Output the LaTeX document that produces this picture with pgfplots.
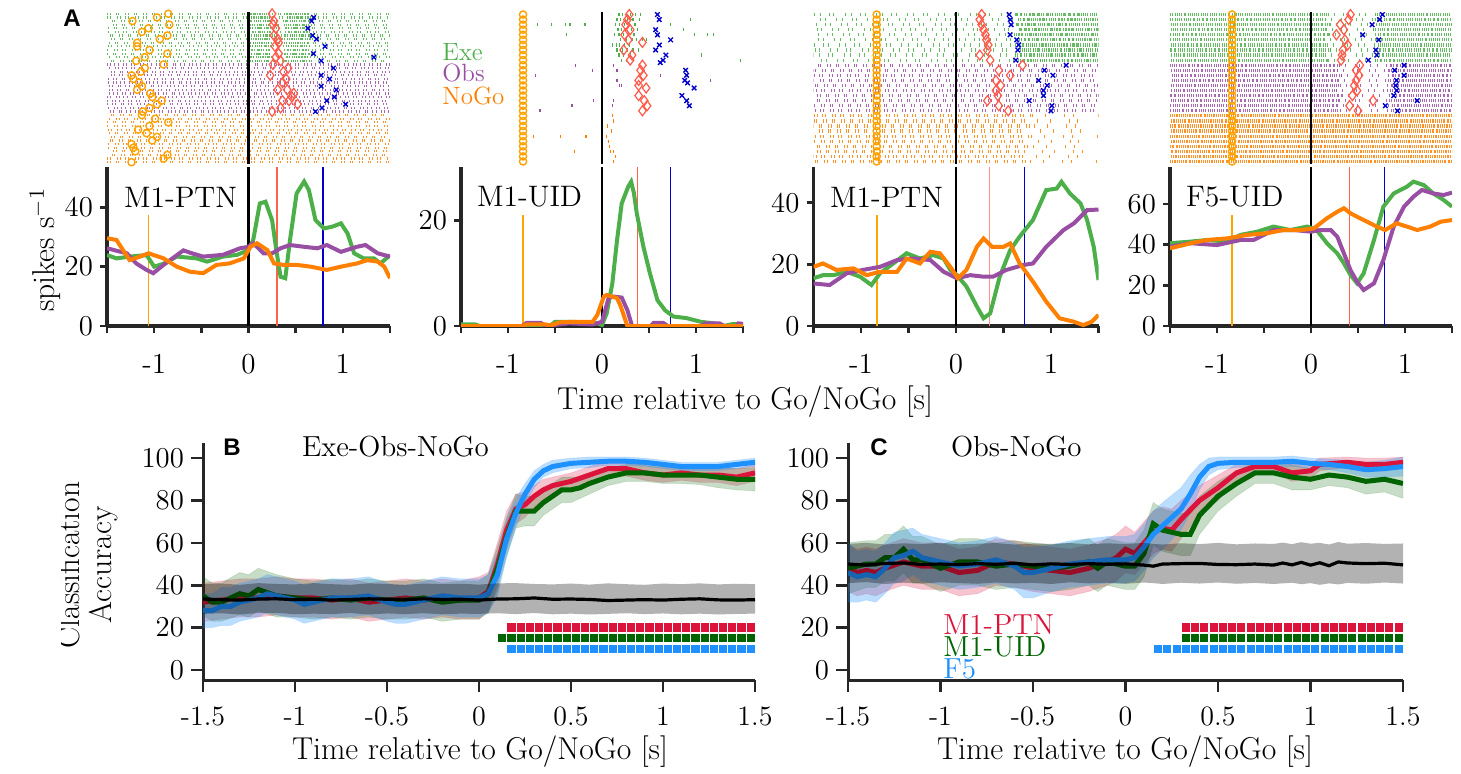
\documentclass[border=0pt]{standalone}
\usepackage{fontspec}
\usepackage{pgfplots}
\pgfplotsset{compat=1.18}
\usepackage{pgfplotstable}
\newfontfamily\helv{Liberation Sans}

\definecolor{cexe}{HTML}{4DAF4A}
\definecolor{cobs}{HTML}{984EA3}
\definecolor{cnogo}{HTML}{FF7F00}
\definecolor{ccirc}{HTML}{FFA200}
\definecolor{cdiam}{HTML}{FF5A4A}
\definecolor{ccross}{HTML}{0000CD}
\definecolor{cevo}{HTML}{FFA500}
\definecolor{cevr}{HTML}{FF6347}
\definecolor{cevb}{HTML}{0000CD}
\definecolor{cred}{HTML}{DC143C}
\definecolor{cgreen}{HTML}{006400}
\definecolor{cblue}{HTML}{1E90FF}
\definecolor{axgray}{HTML}{262626}

\tikzset{
 dA/.style={dash pattern=on 0.45pt off 1.1pt on 0.45pt off 2.4pt on 0.45pt off 0.7pt on 0.45pt off 3.0pt},
 dB/.style={dash pattern=on 0.45pt off 0.9pt on 0.45pt off 1.9pt on 0.45pt off 1.3pt on 0.45pt off 2.3pt},
 dC/.style={dash pattern=on 0.45pt off 0.5pt on 0.45pt off 1.0pt on 0.45pt off 0.4pt on 0.45pt off 0.7pt},
 dD/.style={dash pattern=on 0.5pt off 0.35pt on 0.5pt off 0.6pt on 0.5pt off 0.3pt on 0.5pt off 0.45pt},
 dS/.style={dash pattern=on 0.45pt off 2.6pt on 0.45pt off 4.2pt on 0.45pt off 1.8pt on 0.45pt off 5.2pt},
 dT/.style={dash pattern=on 0.45pt off 6pt on 0.45pt off 9pt on 0.45pt off 4pt on 0.45pt off 12pt},
}

\pgfplotsset{
 psth/.style={scale only axis, height=79.5pt, xmin=-1.5, xmax=1.5, ymin=0, anchor=south west,
   axis x line*=bottom, axis y line*=left,
   axis line style={line width=1.6pt, color=axgray, -},
   xtick={-1.5,-1,-0.5,0,0.5,1,1.5}, xticklabels={,-1,,0,,1,},
   tick align=outside, major tick length=3.5pt,
   tick style={line width=1.3pt, color=axgray},
   tick label style={font=\fontsize{14.5}{16}\selectfont, color=black},
   xticklabel style={yshift=-7pt}},
 raster/.style={scale only axis, height=76pt, xmin=-1.5, xmax=1.5, ymin=0.5, ymax=30.5,
   y dir=reverse, hide axis, anchor=south west, unbounded coords=jump},
 acc/.style={scale only axis, height=118.5pt, xmin=-1.5, xmax=1.5, ymin=-4.7, ymax=107.1,
   anchor=south west,
   axis x line*=bottom, axis y line*=left,
   axis line style={line width=1.5pt, color=axgray, -},
   xtick={-1.5,-1,-0.5,0,0.5,1,1.5}, xticklabels={-1.5,-1,-0.5,0,0.5,1,1.5},
   ytick={0,20,40,60,80,100},
   tick align=outside, major tick length=6pt,
   tick style={line width=1.3pt, color=axgray},
   tick label style={font=\fontsize{14}{16}\selectfont, color=black},
   xticklabel style={yshift=-4pt}},
 circ/.style={only marks, mark=o, mark size=1.8pt, color=ccirc, mark options={line width=0.7pt}},
 diam/.style={only marks, mark=diamond, mark size=2.5pt, color=cdiam, mark options={line width=0.6pt}},
 crs/.style={only marks, mark=x, mark size=1.6pt, color=ccross, mark options={line width=0.7pt}},
 sq/.style={only marks, mark=square*, mark size=2.3pt, mark options={draw=white, line width=0.25pt, fill=#1}},
 bandR/.style={fill=cred, fill opacity=0.25, draw=cred, draw opacity=0.12, line width=0.4pt},
 bandG/.style={fill=cgreen, fill opacity=0.22, draw=cgreen, draw opacity=0.12, line width=0.4pt},
 bandB/.style={fill=cblue, fill opacity=0.3, draw=cblue, draw opacity=0.12, line width=0.4pt},
 bandK/.style={fill=black, fill opacity=0.3, draw=none},
}

% ---------- classification data (mean lines) ----------
\pgfplotstableread{
x y
-1.5 32
-1.4 33
-1.3 34
-1.2 34
-1.1 35
-1.0 34
-0.9 34
-0.8 33
-0.7 34
-0.6 32
-0.5 33
-0.4 34
-0.3 33
-0.2 34
-0.1 33
0.0 34
0.05 37
0.1 50
0.15 66
0.2 76
0.25 78
0.3 82
0.35 85
0.4 87
0.5 89
0.6 92
0.7 95
0.8 95
0.9 93
1.0 92
1.1 93
1.2 92
1.3 92
1.4 91
1.5 93
}\Bred
\pgfplotstableread{
x y
-1.5 35
-1.45 32
-1.4 32
-1.3 36
-1.25 35
-1.2 38
-1.1 35
-1.0 34
-0.9 33
-0.8 34
-0.7 33
-0.6 34
-0.5 33
-0.4 33
-0.3 34
-0.2 32
-0.1 33
0.0 33
0.05 36
0.1 48
0.15 63
0.2 75
0.25 75
0.3 75
0.35 79
0.4 82
0.45 85
0.5 85
0.55 86
0.6 88
0.7 91
0.8 93
0.9 93
1.0 92
1.1 92
1.2 92
1.3 91
1.4 90
1.5 90
}\Bgreen
\pgfplotstableread{
x y
-1.5 28
-1.45 28
-1.4 30
-1.35 30
-1.3 32
-1.2 34
-1.15 36
-1.1 35
-1.0 33
-0.95 31
-0.9 32
-0.8 34
-0.7 34
-0.6 35
-0.5 32
-0.45 31
-0.4 31
-0.3 33
-0.2 35
-0.1 34
0.0 34
0.05 36
0.1 45
0.15 62
0.2 74
0.25 83
0.3 90
0.35 94
0.4 96
0.5 97.5
0.6 98
0.7 98.5
0.8 98.5
0.9 98
1.0 97
1.1 96
1.2 96
1.3 96
1.4 97
1.5 98
}\Bblue
\pgfplotstableread{
x y
-1.5 33.5
-1.4 33.2
-1.3 33.0
-1.2 33.5
-1.1 33.6
-1.0 33.2
-0.9 33.4
-0.8 33.0
-0.7 33.3
-0.6 33.6
-0.5 33.4
-0.4 33.2
-0.3 33.6
-0.2 33.3
-0.1 33.4
0.0 33.0
0.1 33.5
0.2 33.6
0.3 34.0
0.4 33.4
0.5 33.5
0.6 33.3
0.7 32.8
0.8 33.0
0.9 33.2
1.0 33.0
1.1 33.4
1.2 33.6
1.3 33.1
1.4 33.0
1.5 33.2
}\Bchance
\pgfplotstableread{
x y
-1.5 48
-1.45 46
-1.4 47
-1.35 46
-1.3 48
-1.2 51
-1.1 49
-1.0 49
-0.9 46
-0.8 47
-0.7 51
-0.6 50
-0.5 48
-0.4 47
-0.3 46
-0.2 48
-0.1 51
-0.05 53
0.0 57
0.05 55
0.1 60
0.15 65
0.2 67
0.25 66
0.3 71
0.4 80
0.5 86
0.6 93
0.7 96
0.8 96
0.9 93
1.0 94
1.05 97
1.2 98
1.3 97
1.4 97
1.5 98
}\Cred
\pgfplotstableread{
x y
-1.5 48
-1.4 50
-1.35 50
-1.3 53
-1.25 53
-1.2 57
-1.15 52
-1.1 52
-1.0 48
-0.9 51
-0.8 51
-0.7 49
-0.6 50
-0.5 49
-0.4 48
-0.3 49
-0.2 51
-0.15 48
-0.1 51
0.0 49
0.05 49
0.1 55
0.15 69
0.2 66
0.3 64
0.35 64
0.4 73
0.5 82
0.6 88
0.7 93
0.8 93
0.9 91
1.0 90
1.1 92
1.2 91
1.3 89
1.4 90
1.5 88
}\Cgreen
\pgfplotstableread{
x y
-1.5 46
-1.45 44
-1.4 45
-1.35 44
-1.3 48
-1.25 53
-1.2 54
-1.15 56
-1.1 53
-1.0 51
-0.9 49
-0.8 50
-0.7 52
-0.6 49
-0.55 46
-0.5 46
-0.4 48
-0.3 50
-0.2 51
-0.1 52
0.0 52
0.05 53
0.1 58
0.15 64
0.2 68
0.3 76
0.35 83
0.4 91
0.45 96
0.5 97.5
0.6 98
0.8 98
0.9 98.5
1.0 97.5
1.1 97
1.2 96
1.3 94.5
1.4 95
1.5 96
}\Cblue
\pgfplotstableread{
x y
-1.5 50.0
-1.4 49.5
-1.3 50.3
-1.2 50.5
-1.1 49.8
-1.0 50.0
-0.9 49.7
-0.8 50.2
-0.7 49.9
-0.6 50.3
-0.5 49.6
-0.4 50.1
-0.3 49.8
-0.2 50.2
-0.1 49.9
0.0 50.1
0.1 49.5
0.15 49.0
0.2 50.0
0.3 50.2
0.4 50.3
0.5 49.8
0.6 49.7
0.7 50.0
0.8 49.5
0.85 50.5
0.9 49.6
0.95 50.8
1.0 49.5
1.05 50.6
1.1 49.2
1.15 51.0
1.2 50.5
1.3 50.2
1.4 50.4
1.5 49.6
}\Cchance

\begin{document}
\begin{tikzpicture}[x=0.5pt,y=0.5pt]
\useasboundingbox (0,0) rectangle (1461,773);
\clip (0,0) rectangle (1461,773);
\coordinate (rA1) at (107,609);   \coordinate (pA1) at (107,447);
\coordinate (rA2) at (461,609);   \coordinate (pA2) at (461,447);
\coordinate (rA3) at (813.5,609); \coordinate (pA3) at (813.5,447);
\coordinate (rA4) at (1170,609);  \coordinate (pA4) at (1170,447);
\coordinate (pB) at (203,93);     \coordinate (pC) at (848,93);

% ================= PANEL A1 =================
\begin{axis}[raster, at={(rA1)}, width=141.5pt, ymax=42.5]
\addplot[cexe, line width=1.1pt, dA, opacity=0.85] coordinates {
(-1.50,1)(1.5,1)(0,nan)(-1.59,2)(1.5,2)(0,nan)(-1.54,3)(1.5,3)(0,nan)(-1.63,4)(1.5,4)(0,nan)
(-1.52,5)(1.5,5)(0,nan)(-1.61,6)(1.5,6)(0,nan)(-1.56,7)(1.5,7)(0,nan)(-1.65,8)(1.5,8)(0,nan)
(-1.51,9)(1.5,9)(0,nan)(-1.58,10)(1.5,10)(0,nan)(-1.62,11)(1.5,11)(0,nan)(-1.53,12)(1.5,12)(0,nan)
(-1.60,13)(1.5,13)(0,nan)(-1.55,14)(1.5,14)};
\addplot[cexe, line width=1.1pt, dC, opacity=0.85] coordinates {
(0.00,1)(0.22,1)(0,nan)(0.38,1)(0.65,1)(0,nan)(0.03,2)(0.22,2)(0,nan)(0.41,2)(0.65,2)(0,nan)
(0.01,3)(0.22,3)(0,nan)(0.39,3)(0.65,3)(0,nan)(0.04,4)(0.22,4)(0,nan)(0.42,4)(0.65,4)(0,nan)
(0.02,5)(0.22,5)(0,nan)(0.40,5)(0.65,5)(0,nan)(0.05,6)(0.22,6)(0,nan)(0.43,6)(0.65,6)(0,nan)
(0.01,7)(0.22,7)(0,nan)(0.39,7)(0.65,7)(0,nan)(0.03,8)(0.22,8)(0,nan)(0.41,8)(0.65,8)(0,nan)
(0.00,9)(0.22,9)(0,nan)(0.38,9)(0.65,9)(0,nan)(0.02,10)(0.22,10)(0,nan)(0.40,10)(0.65,10)(0,nan)
(0.04,11)(0.22,11)(0,nan)(0.42,11)(0.65,11)(0,nan)(0.01,12)(0.22,12)(0,nan)(0.39,12)(0.65,12)(0,nan)
(0.03,13)(0.22,13)(0,nan)(0.41,13)(0.65,13)(0,nan)(0.02,14)(0.22,14)(0,nan)(0.40,14)(0.65,14)};
\addplot[cobs, line width=1.1pt, dB, opacity=0.85] coordinates {
(-1.50,15)(1.5,15)(0,nan)(-1.59,16)(1.5,16)(0,nan)(-1.54,17)(1.5,17)(0,nan)(-1.63,18)(1.5,18)(0,nan)
(-1.52,19)(1.5,19)(0,nan)(-1.61,20)(1.5,20)(0,nan)(-1.56,21)(1.5,21)(0,nan)(-1.65,22)(1.5,22)(0,nan)
(-1.51,23)(1.5,23)(0,nan)(-1.58,24)(1.5,24)(0,nan)(-1.62,25)(1.5,25)(0,nan)(-1.53,26)(1.5,26)(0,nan)
(-1.60,27)(1.5,27)(0,nan)(-1.55,28)(1.5,28)};
\addplot[cnogo, line width=1.1pt, dA, opacity=0.85] coordinates {
(-1.55,29)(1.5,29)(0,nan)(-1.60,30)(1.5,30)(0,nan)(-1.53,31)(1.5,31)(0,nan)(-1.62,32)(1.5,32)(0,nan)
(-1.58,33)(1.5,33)(0,nan)(-1.51,34)(1.5,34)(0,nan)(-1.65,35)(1.5,35)(0,nan)(-1.56,36)(1.5,36)(0,nan)
(-1.61,37)(1.5,37)(0,nan)(-1.52,38)(1.5,38)(0,nan)(-1.63,39)(1.5,39)(0,nan)(-1.54,40)(1.5,40)(0,nan)
(-1.59,41)(1.5,41)(0,nan)(-1.50,42)(1.5,42)};
\addplot[black, line width=1.3pt] coordinates {(0,0.5)(0,42.5)};
\addplot[circ] coordinates {
(-0.85,1)(-0.97,2)(-1.23,3)(-0.84,4)(-1.06,5)(-1.13,6)(-0.86,7)(-0.94,8)(-1.18,9)(-1.18,10)
(-1.05,11)(-0.86,12)(-1.10,13)(-1.19,14)(-0.90,15)(-1.10,16)(-1.14,17)(-1.24,18)(-1.22,19)(-1.16,20)
(-1.13,21)(-1.18,22)(-1.04,23)(-1.02,24)(-0.92,25)(-0.97,26)(-1.05,27)(-1.12,28)(-1.13,29)(-0.99,30)
(-0.85,31)(-1.05,32)(-1.17,33)(-1.08,34)(-0.97,35)(-1.02,36)(-1.24,37)(-1.22,38)(-1.20,39)(-0.86,40)
(-0.90,41)(-1.24,42)};
\addplot[diam] coordinates {
(0.25,1)(0.27,3)(0.26,4)(0.29,5)(0.27,7)(0.31,8)(0.32,9)(0.28,10)(0.32,12)(0.29,13)
(0.34,14)(0.26,15)(0.42,16)(0.37,17)(0.23,18)(0.40,19)(0.36,20)(0.31,22)(0.41,22)(0.48,23)
(0.46,24)(0.43,25)(0.36,25)(0.52,26)(0.34,27)(0.25,28)};
\addplot[crs] coordinates {
(0.69,2)(0.67,3)(0.63,5)(0.68,7)(0.72,8)(0.81,10)(0.69,12)(1.33,13)(0.77,14)(0.90,16)
(0.77,18)(0.86,19)(0.77,21)(0.93,22)(0.91,24)(0.83,25)(1.03,26)(0.78,27)(0.71,28)};
\end{axis}
\begin{axis}[psth, at={(pA1)}, width=141.5pt, ymax=53.6, ytick={0,20,40}]
\addplot[cevo, line width=0.9pt] coordinates {(-1.06,0)(-1.06,37.4)};
\addplot[cevr, line width=0.7pt] coordinates {(0.30,0)(0.30,53.6)};
\addplot[cevb, line width=0.7pt] coordinates {(0.79,0)(0.79,53.6)};
\addplot[black, line width=1.3pt] coordinates {(0,0)(0,53.6)};
\addplot[cexe, line width=2pt] coordinates {
(-1.5,23.9)(-1.40,22.8)(-1.26,23.4)(-1.08,23.9)(-1.0,20.0)(-0.9,21)(-0.76,23.4)(-0.55,22.8)(-0.44,21.7)
(-0.27,23.4)(-0.12,24)(0,25.6)(0.05,29)(0.12,41.3)(0.18,41.9)(0.25,35.7)(0.30,24.5)(0.34,16.6)(0.39,16.1)
(0.44,29)(0.51,44.7)(0.59,48.7)(0.64,45.8)(0.71,35.7)(0.80,32.9)(0.89,33.5)(0.98,34.6)(1.05,31.2)
(1.12,24.5)(1.22,22.8)(1.33,22.8)(1.40,21.1)(1.5,23.9)};
\addplot[cobs, line width=2pt] coordinates {
(-1.5,26.2)(-1.29,24.5)(-1.19,21.1)(-1.08,18.9)(-1.01,17.8)(-0.9,20.6)(-0.69,25.5)(-0.6,24.5)(-0.48,23.4)
(-0.27,24)(-0.09,26.2)(0,26.7)(0.05,27.9)(0.16,24.5)(0.25,24.5)(0.34,26.2)(0.44,27.3)(0.59,26.7)
(0.73,26.2)(0.83,27.3)(0.98,25)(1.15,26.7)(1.24,27.3)(1.37,24.5)(1.5,23.4)};
\addplot[cnogo, line width=2pt] coordinates {
(-1.5,29.6)(-1.4,29)(-1.26,22.2)(-1.15,23.4)(-1.06,24.5)(-0.9,22.8)(-0.76,20)(-0.62,18.3)(-0.48,17.8)
(-0.34,20.6)(-0.2,21.1)(-0.05,22.8)(0.02,26.7)(0.09,27.9)(0.20,25.6)(0.27,21.1)(0.37,20.6)(0.51,20.6)
(0.66,20)(0.83,18.9)(0.98,20)(1.15,21.1)(1.26,22.2)(1.37,21.7)(1.44,20)(1.5,16.1)};
\end{axis}

% ================= PANEL A2 =================
\begin{axis}[raster, at={(rA2)}, width=141pt]
\addplot[only marks, mark=|, mark size=0.8pt, cexe, mark options={line width=0.6pt}] coordinates {
(-0.69,3)(-0.54,3)(-0.39,3)(-0.34,3)(-0.18,3)(-0.38,5)
(0.18,1)(0.22,1)(0.26,1)(0.30,1)(0.36,1)(0.41,1)
(0.16,2)(0.20,2)(0.27,2)(0.33,2)(0.40,2)(0.94,2)
(0.14,3)(0.19,3)(0.24,3)(0.29,3)(0.35,3)(0.73,3)
(0.17,4)(0.21,4)(0.25,4)(0.31,4)(0.38,4)(0.87,4)
(0.13,5)(0.18,5)(0.23,5)(0.28,5)(0.34,5)(0.98,5)(1.12,5)(1.19,5)
(0.20,6)(0.26,6)(0.32,6)(0.37,6)(0.43,6)(0.47,6)
(0.11,7)(0.15,7)(0.19,7)(0.24,7)(0.29,7)
(0.16,8)(0.22,8)(0.27,8)(0.33,8)(0.39,8)
(0.18,9)(0.23,9)(0.30,9)(1.06,9)
(0.21,10)(0.26,10)(1.47,10)};
\addplot[only marks, mark=|, mark size=0.8pt, cobs, mark options={line width=0.6pt}] coordinates {
(-0.71,13)(-0.28,11)(-0.10,12)(0.12,11)(0.16,12)(0.16,14)(0.19,15)(0.21,15)(0.62,13)(1.15,14)
(-0.66,20)(-0.32,19)(-0.09,18)(0.12,18)(0.11,19)};
\addplot[only marks, mark=|, mark size=0.8pt, cnogo, mark options={line width=0.6pt}] coordinates {
(0.11,21)(0.12,22)(0.06,23)(0.10,24)(-0.73,25)(-0.44,25)(-0.17,25)(0.05,25)(0.07,26)(0.08,27)
(-0.29,28)(0.09,28)(0.12,28)(0.14,29)(0.12,30)};
\addplot[black, line width=1.3pt] coordinates {(0,0.5)(0,30.5)};
\addplot[circ] coordinates {
(-0.84,1)(-0.84,2)(-0.84,3)(-0.84,4)(-0.84,5)(-0.84,6)(-0.84,7)(-0.84,8)(-0.84,9)(-0.84,10)
(-0.84,11)(-0.84,12)(-0.84,13)(-0.84,14)(-0.84,15)(-0.84,16)(-0.84,17)(-0.84,18)(-0.84,19)(-0.84,20)
(-0.84,21)(-0.84,22)(-0.84,23)(-0.84,24)(-0.84,25)(-0.84,26)(-0.84,27)(-0.84,28)(-0.84,29)(-0.84,30)};
\addplot[diam] coordinates {
(0.29,1)(0.27,2)(0.25,3)(0.30,4)(0.24,5)(0.28,6)(0.43,6.5)(0.23,8)(0.32,9)(0.30,10)
(0.43,11)(0.41,12)(0.44,13)(0.39,14)(0.39,15)(0.47,15.5)(0.39,17)(0.45,18)(0.48,19)(0.43,20)};
\addplot[crs] coordinates {
(0.59,1)(0.61,2)(0.57,4)(0.59,5)(0.73,6)(0.61,7)(0.57,8)(0.68,9)(0.65,10)(0.62,10.5)
(0.89,12)(0.90,13)(0.88,14)(0.91,14.5)(0.98,15.5)(0.85,17)(0.90,18)(0.93,19)};
\end{axis}
\begin{axis}[psth, at={(pA2)}, width=141pt, ymax=30.2, ytick={0,20}]
\addplot[cevo, line width=0.9pt] coordinates {(-0.84,0)(-0.84,21.1)};
\addplot[cevr, line width=0.7pt] coordinates {(0.38,0)(0.38,30.2)};
\addplot[cevb, line width=0.7pt] coordinates {(0.73,0)(0.73,30.2)};
\addplot[black, line width=1.3pt] coordinates {(0,0)(0,30.2)};
\addplot[cexe, line width=2pt] coordinates {
(-1.5,0.3)(-1.35,0.3)(-1.3,0)(-0.55,0)(-0.5,0.8)(-0.3,0.8)(-0.2,0.5)(-0.05,0.5)(0,0.2)(0.05,2.4)
(0.11,8.1)(0.16,16.3)(0.21,23.3)(0.28,26.5)(0.31,27.4)(0.34,25.2)(0.37,21.4)(0.44,15.1)(0.51,10)
(0.59,4.9)(0.67,3)(0.76,1.8)(0.9,1.5)(1.05,0.8)(1.19,0.5)(1.29,0)(1.4,0.4)(1.5,0.2)};
\addplot[cobs, line width=2pt] coordinates {
(-1.5,0)(-0.85,0)(-0.8,0.6)(-0.65,0.6)(-0.6,0)(-0.35,0.5)(-0.1,0.3)(0,0.8)(0.07,5.3)(0.12,5.6)
(0.21,5.4)(0.27,3)(0.32,0)(0.52,0)(0.55,0.6)(0.65,0.6)(0.7,0)(1.05,0)(1.1,0.5)(1.25,0.5)(1.3,0)
(1.43,0)(1.45,0.5)(1.5,0.4)};
\addplot[cnogo, line width=2pt] coordinates {
(-1.5,0)(-0.85,0)(-0.8,0.3)(-0.6,0.3)(-0.55,0.1)(-0.45,0.7)(-0.3,0.8)(-0.1,0.8)(-0.05,2.1)(0.02,5.6)
(0.05,5.9)(0.16,5.3)(0.2,3.7)(0.27,0)(1.5,0)};
\end{axis}

% ================= PANEL A3 =================
\begin{axis}[raster, at={(rA3)}, width=142.5pt]
\addplot[cexe, line width=1.6pt, dS, opacity=0.85] coordinates {
(-1.50,1)(1.5,1)(0,nan)(-1.59,2)(1.5,2)(0,nan)(-1.54,3)(1.5,3)(0,nan)(-1.63,4)(1.5,4)(0,nan)
(-1.52,5)(1.5,5)(0,nan)(-1.61,6)(1.5,6)(0,nan)(-1.56,7)(1.5,7)(0,nan)(-1.65,8)(1.5,8)(0,nan)
(-1.51,9)(1.5,9)(0,nan)(-1.58,10)(1.5,10)};
\addplot[cexe, line width=1.6pt, dC, opacity=0.85] coordinates {
(0.62,1)(1.5,1)(0,nan)(0.65,2)(1.5,2)(0,nan)(0.63,3)(1.5,3)(0,nan)(0.66,4)(1.5,4)(0,nan)
(0.63,5)(1.5,5)(0,nan)(0.66,6)(1.5,6)(0,nan)(0.64,7)(1.5,7)(0,nan)(0.67,8)(1.5,8)(0,nan)
(0.62,9)(1.5,9)(0,nan)(0.65,10)(1.5,10)};
\addplot[cobs, line width=1.6pt, dA, opacity=0.85] coordinates {
(-1.55,11)(1.5,11)(0,nan)(-1.60,12)(1.5,12)(0,nan)(-1.53,13)(1.5,13)(0,nan)(-1.62,14)(1.5,14)(0,nan)
(-1.58,15)(1.5,15)(0,nan)(-1.51,16)(1.5,16)(0,nan)(-1.65,17)(1.5,17)(0,nan)(-1.56,18)(1.5,18)(0,nan)
(-1.61,19)(1.5,19)(0,nan)(-1.52,20)(1.5,20)};
\addplot[cnogo, line width=1.6pt, dA, opacity=0.85] coordinates {
(-1.50,21)(0.78,21)(0,nan)(-1.59,22)(0.75,22)(0,nan)(-1.54,23)(0.80,23)(0,nan)(-1.63,24)(0.72,24)(0,nan)
(-1.52,25)(0.77,25)(0,nan)(-1.61,26)(0.74,26)(0,nan)(-1.56,27)(0.79,27)(0,nan)(-1.65,28)(0.73,28)(0,nan)
(-1.51,29)(0.76,29)(0,nan)(-1.58,30)(0.75,30)};
\addplot[cnogo, line width=1.6pt, dT, opacity=0.85] coordinates {
(0.80,21)(1.5,21)(0,nan)(0.85,22)(1.5,22)(0,nan)(0.82,23)(1.5,23)(0,nan)(0.88,24)(1.5,24)(0,nan)
(0.79,25)(1.5,25)(0,nan)(0.86,26)(1.5,26)(0,nan)(0.81,27)(1.5,27)(0,nan)(0.90,28)(1.5,28)(0,nan)
(0.84,29)(1.5,29)(0,nan)(0.78,30)(1.5,30)};
\addplot[black, line width=1.3pt] coordinates {(0,0.5)(0,30.5)};
\addplot[circ] coordinates {
(-0.835,1)(-0.835,2)(-0.835,3)(-0.835,4)(-0.835,5)(-0.835,6)(-0.835,7)(-0.835,8)(-0.835,9)(-0.835,10)
(-0.835,11)(-0.835,12)(-0.835,13)(-0.835,14)(-0.835,15)(-0.835,16)(-0.835,17)(-0.835,18)(-0.835,19)(-0.835,20)
(-0.835,21)(-0.835,22)(-0.835,23)(-0.835,24)(-0.835,25)(-0.835,26)(-0.835,27)(-0.835,28)(-0.835,29)(-0.835,30)};
\addplot[diam] coordinates {
(0.27,1)(0.25,2)(0.27,3)(0.29,4)(0.31,5)(0.32,6)(0.34,7)(0.33,8)(0.25,9)(0.36,10)
(0.70,11)(0.45,12)(0.57,13)(0.42,14)(0.47,15)(0.42,16)(0.44,17)(0.33,18)(0.45,19)(0.55,20)};
\addplot[crs] coordinates {
(0.56,1)(0.57,2)(0.58,3)(0.57,5)(0.64,6)(0.66,7)(0.65,8)(0.63,10)(1.16,11)(0.93,12)
(1.02,13)(0.87,14)(0.96,15)(0.92,16)(0.92,17)(0.77,18)(1.01,19)(1.00,20)};
\end{axis}
\begin{axis}[psth, at={(pA3)}, width=142.5pt, ymax=51.6, ytick={0,20,40}]
\addplot[cevo, line width=0.9pt] coordinates {(-0.83,0)(-0.83,36)};
\addplot[cevr!70, line width=0.7pt] coordinates {(0.35,0)(0.35,51.6)};
\addplot[cevb, line width=0.7pt] coordinates {(0.72,0)(0.72,51.6)};
\addplot[black, line width=1.3pt] coordinates {(0,0)(0,51.6)};
\addplot[cexe, line width=2pt] coordinates {
(-1.5,15.5)(-1.4,16.5)(-1.29,16.5)(-1.15,17.6)(-1.01,16)(-0.89,13.3)(-0.8,17.1)(-0.66,20.3)(-0.52,23.6)
(-0.38,21.9)(-0.24,23)(-0.13,21.9)(-0.06,18.2)(0.01,16.5)(0.11,12.8)(0.22,6.3)(0.29,2.5)(0.36,4.1)
(0.46,16)(0.57,24.6)(0.67,29)(0.81,34.4)(0.95,44.1)(1.06,44.6)(1.11,46.8)(1.2,43)(1.31,39.8)(1.38,34.4)
(1.45,25.7)(1.5,14.9)};
\addplot[cobs, line width=2pt] coordinates {
(-1.5,13.8)(-1.33,13.3)(-1.15,17.1)(-0.98,18.2)(-0.8,19.2)(-0.62,21.4)(-0.45,21.9)(-0.27,21.4)
(-0.13,17.6)(0.01,15.5)(0.15,16.5)(0.29,16)(0.39,16)(0.53,18.2)(0.71,19.8)(0.81,20.3)(0.95,25.7)
(1.13,31.1)(1.24,33.3)(1.38,37.6)(1.5,37.8)};
\addplot[cnogo, line width=2pt] coordinates {
(-1.5,19.2)(-1.4,20.3)(-1.26,18.2)(-1.08,18.7)(-0.94,16.5)(-0.8,17.6)(-0.62,17.6)(-0.52,21.9)(-0.38,20.3)
(-0.27,24.1)(-0.17,23.6)(-0.06,19.2)(0.02,15.5)(0.11,18.2)(0.22,25.7)(0.29,28.4)(0.38,25.7)(0.5,25.7)
(0.57,26.8)(0.67,20.3)(0.81,14.4)(0.95,7.9)(1.09,2.5)(1.24,1.4)(1.34,0.3)(1.43,1.4)(1.5,3.6)};
\end{axis}

% ================= PANEL A4 =================
\begin{axis}[raster, at={(rA4)}, width=141pt]
\addplot[cexe, line width=1.6pt, dC, opacity=0.85] coordinates {
(-1.50,1)(0.18,1)(0,nan)(0.70,1)(1.5,1)(0,nan)(-1.59,2)(0.15,2)(0,nan)(0.68,2)(1.5,2)(0,nan)
(-1.54,3)(0.20,3)(0,nan)(0.72,3)(1.5,3)(0,nan)(-1.63,4)(0.16,4)(0,nan)(0.66,4)(1.5,4)(0,nan)
(-1.52,5)(0.19,5)(0,nan)(0.71,5)(1.5,5)(0,nan)(-1.61,6)(0.14,6)(0,nan)(0.69,6)(1.5,6)(0,nan)
(-1.56,7)(0.17,7)(0,nan)(0.73,7)(1.5,7)(0,nan)(-1.65,8)(0.20,8)(0,nan)(0.67,8)(1.5,8)(0,nan)
(-1.51,9)(0.15,9)(0,nan)(0.70,9)(1.5,9)(0,nan)(-1.58,10)(0.18,10)(0,nan)(0.68,10)(1.5,10)};
\addplot[cexe, line width=1.6pt, dS, opacity=0.85] coordinates {
(0.18,1)(0.70,1)(0,nan)(0.15,2)(0.68,2)(0,nan)(0.20,3)(0.72,3)(0,nan)(0.16,4)(0.66,4)(0,nan)
(0.19,5)(0.71,5)(0,nan)(0.14,6)(0.69,6)(0,nan)(0.17,7)(0.73,7)(0,nan)(0.20,8)(0.67,8)(0,nan)
(0.15,9)(0.70,9)(0,nan)(0.18,10)(0.68,10)};
\addplot[cobs, line width=1.6pt, dC, opacity=0.85] coordinates {
(-1.55,11)(0.30,11)(0,nan)(0.85,11)(1.5,11)(0,nan)(-1.60,12)(0.28,12)(0,nan)(0.83,12)(1.5,12)(0,nan)
(-1.53,13)(0.32,13)(0,nan)(0.87,13)(1.5,13)(0,nan)(-1.62,14)(0.29,14)(0,nan)(0.82,14)(1.5,14)(0,nan)
(-1.58,15)(0.31,15)(0,nan)(0.86,15)(1.5,15)(0,nan)(-1.51,16)(0.27,16)(0,nan)(0.84,16)(1.5,16)(0,nan)
(-1.65,17)(0.33,17)(0,nan)(0.88,17)(1.5,17)(0,nan)(-1.56,18)(0.30,18)(0,nan)(0.83,18)(1.5,18)(0,nan)
(-1.61,19)(0.28,19)(0,nan)(0.86,19)(1.5,19)(0,nan)(-1.52,20)(0.31,20)(0,nan)(0.85,20)(1.5,20)};
\addplot[cobs, line width=1.6pt, dS, opacity=0.85] coordinates {
(0.30,11)(0.85,11)(0,nan)(0.28,12)(0.83,12)(0,nan)(0.32,13)(0.87,13)(0,nan)(0.29,14)(0.82,14)(0,nan)
(0.31,15)(0.86,15)(0,nan)(0.27,16)(0.84,16)(0,nan)(0.33,17)(0.88,17)(0,nan)(0.30,18)(0.83,18)(0,nan)
(0.28,19)(0.86,19)(0,nan)(0.31,20)(0.85,20)};
\addplot[cnogo, line width=1.6pt, dD, opacity=0.85] coordinates {
(-1.50,21)(1.5,21)(0,nan)(-1.59,22)(1.5,22)(0,nan)(-1.54,23)(1.5,23)(0,nan)(-1.63,24)(1.5,24)(0,nan)
(-1.52,25)(1.5,25)(0,nan)(-1.61,26)(1.5,26)(0,nan)(-1.56,27)(1.5,27)(0,nan)(-1.65,28)(1.5,28)(0,nan)
(-1.51,29)(1.5,29)(0,nan)(-1.58,30)(1.5,30)};
\addplot[black, line width=1.3pt] coordinates {(0,0.5)(0,30.5)};
\addplot[circ] coordinates {
(-0.84,1)(-0.84,2)(-0.84,3)(-0.84,4)(-0.84,5)(-0.84,6)(-0.84,7)(-0.84,8)(-0.84,9)(-0.84,10)
(-0.84,11)(-0.84,12)(-0.84,13)(-0.84,14)(-0.84,15)(-0.84,16)(-0.84,17)(-0.84,18)(-0.84,19)(-0.84,20)
(-0.84,21)(-0.84,22)(-0.84,23)(-0.84,24)(-0.84,25)(-0.84,26)(-0.84,27)(-0.84,28)(-0.84,29)(-0.84,30)};
\addplot[diam] coordinates {
(0.42,1)(0.40,2)(0.31,3)(0.35,4)(0.27,5)(0.36,6)(0.39,7)(0.34,8)(0.33,9)(0.32,10)
(0.52,11)(0.48,12)(0.51,13)(0.48,14)(0.46,15)(0.49,16)(0.44,17)(0.66,18)(0.41,19)(0.50,20)};
\addplot[crs] coordinates {
(0.76,1)(0.73,2)(0.65,3)(0.55,5)(0.72,6)(0.69,8)(0.70,9)(0.61,10)(0.99,11)(0.89,12)
(0.99,13)(0.91,14)(0.90,15)(0.91,16)(0.88,17)(1.13,18)(0.79,19)(0.92,20)};
\end{axis}
\begin{axis}[psth, at={(pA4)}, width=141pt, ymax=78.2, ytick={0,20,40,60}]
\addplot[cevo, line width=0.9pt] coordinates {(-0.84,0)(-0.84,54.6)};
\addplot[cevr, line width=0.7pt] coordinates {(0.41,0)(0.41,78.2)};
\addplot[cevb, line width=0.7pt] coordinates {(0.78,0)(0.78,78.2)};
\addplot[black, line width=1.3pt] coordinates {(0,0)(0,78.2)};
\addplot[cexe, line width=2pt] coordinates {
(-1.5,40.7)(-1.28,41.5)(-1.11,42.3)(-0.89,41.5)(-0.75,44.8)(-0.57,46.4)(-0.4,48.9)(-0.22,47.2)
(-0.04,48.9)(0.06,47.2)(0.17,40.7)(0.28,35.7)(0.35,30.8)(0.42,25.1)(0.49,21)(0.56,25.9)(0.67,42.3)
(0.77,58.7)(0.88,65.2)(1.02,68.5)(1.09,71)(1.2,69.3)(1.3,65.2)(1.41,62)(1.5,58.7)};
\addplot[cobs, line width=2pt] coordinates {
(-1.5,39)(-1.28,40.7)(-1.0,39.8)(-0.75,42.3)(-0.61,42.3)(-0.4,47.2)(-0.18,47.2)(0,46.4)(0.1,47.2)
(0.21,47.2)(0.28,43.9)(0.35,35.7)(0.42,27.5)(0.49,21.8)(0.56,17.7)(0.67,21)(0.77,32.5)(0.88,48.9)
(0.99,58.7)(1.09,63.6)(1.18,66.9)(1.3,65.2)(1.41,64.4)(1.5,65.6)};
\addplot[cnogo, line width=2pt] coordinates {
(-1.5,38.2)(-1.28,40.7)(-1.11,42.3)(-0.89,43.1)(-0.68,44.8)(-0.47,45.6)(-0.29,47.2)(-0.11,47.2)
(0.03,48)(0.17,53)(0.28,56.2)(0.35,57.9)(0.42,55.4)(0.56,52.1)(0.7,48.9)(0.79,47.2)(0.91,50.5)
(1.02,48.9)(1.13,47.2)(1.27,48.9)(1.38,51.3)(1.5,52.1)};
\end{axis}

% ================= PANEL B =================
\begin{axis}[acc, at={(pB)}, width=276pt]
\addplot[bandR] coordinates {
(-1.5,41)(-1.4,42)(-1.3,43)(-1.2,43)(-1.1,44)(-1.0,43)(-0.9,43)(-0.8,42)(-0.7,43)(-0.6,41)(-0.5,42)(-0.4,43)
(-0.3,42)(-0.2,43)(-0.1,42)(0.0,44)(0.05,46)(0.1,60)(0.15,75)(0.2,83)(0.25,84)(0.3,87)(0.35,90)(0.4,91)
(0.5,93)(0.6,96)(0.7,98.5)(0.8,98.5)(0.9,96.5)(1.0,95.5)(1.1,96.5)(1.2,95.5)(1.3,95.5)(1.4,95)(1.5,97)
(1.5,89)(1.4,87)(1.3,88.5)(1.2,88.5)(1.1,89.5)(1.0,88.5)(0.9,89.5)(0.8,91.5)(0.7,91.5)(0.6,88)(0.5,85)
(0.4,83)(0.35,80)(0.3,77)(0.25,72)(0.2,69)(0.15,57)(0.1,40)(0.05,28)(0.0,24)(-0.1,24)(-0.2,25)(-0.3,24)
(-0.4,25)(-0.5,24)(-0.6,23)(-0.7,25)(-0.8,24)(-0.9,25)(-1.0,25)(-1.1,26)(-1.2,25)(-1.3,25)(-1.4,24)(-1.5,23)};
\addplot[bandG] coordinates {
(-1.5,44)(-1.45,41)(-1.4,41)(-1.3,46)(-1.25,45)(-1.2,48)(-1.1,45)(-1.0,43)(-0.9,42)(-0.8,43)(-0.7,42)(-0.6,43)
(-0.5,42)(-0.4,42)(-0.3,43)(-0.2,41)(-0.1,42)(0.0,42)(0.05,45)(0.1,58)(0.15,72)(0.2,83)(0.25,82)(0.3,82)
(0.35,85)(0.4,88)(0.45,91)(0.5,91)(0.55,91)(0.6,93)(0.7,95)(0.8,97)(0.9,97)(1.0,96)(1.1,96)(1.2,96.5)
(1.3,96)(1.4,95)(1.5,95.5)
(1.5,84.5)(1.4,85)(1.3,86)(1.2,87.5)(1.1,88)(1.0,88)(0.9,89)(0.8,89)(0.7,87)(0.6,83)(0.55,81)(0.5,79)
(0.45,79)(0.4,76)(0.35,73)(0.3,68)(0.25,68)(0.2,67)(0.15,54)(0.1,38)(0.05,27)(0.0,24)(-0.1,24)(-0.2,23)
(-0.3,25)(-0.4,24)(-0.5,24)(-0.6,25)(-0.7,24)(-0.8,25)(-0.9,24)(-1.0,25)(-1.1,25)(-1.2,28)(-1.25,25)
(-1.3,26)(-1.4,23)(-1.45,23)(-1.5,26)};
\addplot[bandB] coordinates {
(-1.5,36)(-1.45,36)(-1.4,39)(-1.35,39)(-1.3,41)(-1.2,43)(-1.15,45)(-1.1,44)(-1.0,42)(-0.95,40)(-0.9,41)
(-0.8,43)(-0.7,43)(-0.6,44)(-0.5,41)(-0.45,40)(-0.4,40)(-0.3,42)(-0.2,44)(-0.1,43)(0.0,43)(0.05,45)
(0.1,55)(0.15,71)(0.2,81)(0.25,88)(0.3,94)(0.35,97)(0.4,99)(0.5,100)(0.6,100.5)(0.7,100.5)(0.8,100.5)
(0.9,100)(1.0,99)(1.1,98)(1.2,98)(1.3,98)(1.4,99)(1.5,100)
(1.5,96)(1.4,95)(1.3,94)(1.2,94)(1.1,94)(1.0,95)(0.9,96)(0.8,96.5)(0.7,96.5)(0.6,95.5)(0.5,95)(0.4,93)
(0.35,91)(0.3,86)(0.25,78)(0.2,67)(0.15,53)(0.1,35)(0.05,27)(0.0,25)(-0.1,25)(-0.2,26)(-0.3,24)(-0.4,22)
(-0.45,22)(-0.5,23)(-0.6,26)(-0.7,25)(-0.8,25)(-0.9,23)(-0.95,22)(-1.0,24)(-1.1,26)(-1.15,27)(-1.2,25)
(-1.3,23)(-1.35,21)(-1.4,21)(-1.45,20)(-1.5,20)};
\addplot[cred, line width=2.5pt] table[x=x, y=y]{\Bred};
\addplot[cgreen, line width=2.5pt] table[x=x, y=y]{\Bgreen};
\addplot[cblue, line width=2.5pt] table[x=x, y=y]{\Bblue};
\addplot[bandK] coordinates {
(-1.5,40.5)(-1.4,40.8)(-1.3,40.2)(-1.2,41.0)(-1.1,40.6)(-1.0,40.4)(-0.9,41.0)(-0.8,40.5)(-0.7,40.2)(-0.6,40.9)
(-0.5,40.6)(-0.4,40.2)(-0.3,40.8)(-0.2,40.5)(-0.1,40.7)(0.0,40.3)(0.1,40.9)(0.2,41.0)(0.3,40.6)(0.4,40.4)
(0.5,40.8)(0.6,40.3)(0.7,40.9)(0.8,40.5)(0.9,40.2)(1.0,40.8)(1.1,40.5)(1.2,40.9)(1.3,40.4)(1.4,40.7)(1.5,40.5)
(1.5,26.6)(1.4,26.5)(1.3,26.2)(1.2,26.6)(1.1,26.3)(1.0,26.7)(0.9,26.4)(0.8,26.8)(0.7,26.5)(0.6,26.2)(0.5,26.6)
(0.4,26.3)(0.3,26.9)(0.2,26.4)(0.1,26.8)(0.0,26.5)(-0.1,26.6)(-0.2,26.3)(-0.3,26.8)(-0.4,26.4)(-0.5,26.7)
(-0.6,26.2)(-0.7,26.9)(-0.8,26.4)(-0.9,26.6)(-1.0,26.3)(-1.1,27.0)(-1.2,26.9)(-1.3,26.2)(-1.4,26.8)(-1.5,26.5)};
\addplot[black, line width=1.6pt] table[x=x, y=y]{\Bchance};
\addplot[sq=cred] coordinates {(0.175,20.2)(0.225,20.2)(0.275,20.2)(0.325,20.2)(0.375,20.2)(0.425,20.2)(0.475,20.2)(0.525,20.2)(0.575,20.2)(0.625,20.2)(0.675,20.2)(0.725,20.2)(0.775,20.2)(0.825,20.2)(0.875,20.2)(0.925,20.2)(0.975,20.2)(1.025,20.2)(1.075,20.2)(1.125,20.2)(1.175,20.2)(1.225,20.2)(1.275,20.2)(1.325,20.2)(1.375,20.2)(1.425,20.2)(1.475,20.2)};
\addplot[sq=cgreen] coordinates {(0.125,15.1)(0.175,15.1)(0.225,15.1)(0.275,15.1)(0.325,15.1)(0.375,15.1)(0.425,15.1)(0.475,15.1)(0.525,15.1)(0.575,15.1)(0.625,15.1)(0.675,15.1)(0.725,15.1)(0.775,15.1)(0.825,15.1)(0.875,15.1)(0.925,15.1)(0.975,15.1)(1.025,15.1)(1.075,15.1)(1.125,15.1)(1.175,15.1)(1.225,15.1)(1.275,15.1)(1.325,15.1)(1.375,15.1)(1.425,15.1)(1.475,15.1)};
\addplot[sq=cblue] coordinates {(0.175,10.1)(0.225,10.1)(0.275,10.1)(0.325,10.1)(0.375,10.1)(0.425,10.1)(0.475,10.1)(0.525,10.1)(0.575,10.1)(0.625,10.1)(0.675,10.1)(0.725,10.1)(0.775,10.1)(0.825,10.1)(0.875,10.1)(0.925,10.1)(0.975,10.1)(1.025,10.1)(1.075,10.1)(1.125,10.1)(1.175,10.1)(1.225,10.1)(1.275,10.1)(1.325,10.1)(1.375,10.1)(1.425,10.1)(1.475,10.1)};
\end{axis}

% ================= PANEL C =================
\begin{axis}[acc, at={(pC)}, width=277.5pt]
\addplot[bandR] coordinates {
(-1.5,59)(-1.45,57)(-1.4,58)(-1.35,57)(-1.3,59)(-1.2,62)(-1.1,60)(-1.0,60)(-0.9,57)(-0.8,58)(-0.7,62)(-0.6,61)
(-0.5,59)(-0.4,58)(-0.3,57)(-0.2,59)(-0.1,62)(-0.05,64)(0.0,68)(0.05,65)(0.1,70)(0.15,75)(0.2,77)(0.25,76)
(0.3,80)(0.4,87)(0.5,92)(0.6,97)(0.7,99)(0.8,99)(0.9,97)(1.0,97.5)(1.05,100)(1.2,100.5)(1.3,100)(1.4,100)(1.5,100.5)
(1.5,95.5)(1.4,94)(1.3,94)(1.2,95.5)(1.05,94)(1.0,90.5)(0.9,89)(0.8,93)(0.7,93)(0.6,89)(0.5,80)(0.4,73)
(0.3,62)(0.25,56)(0.2,57)(0.15,55)(0.1,50)(0.05,45)(0.0,46)(-0.05,42)(-0.1,40)(-0.2,37)(-0.3,35)(-0.4,36)
(-0.5,37)(-0.6,39)(-0.7,40)(-0.8,36)(-0.9,35)(-1.0,38)(-1.1,38)(-1.2,40)(-1.3,37)(-1.35,35)(-1.4,36)(-1.45,35)(-1.5,37)};
\addplot[bandG] coordinates {
(-1.5,60)(-1.4,61)(-1.35,61)(-1.3,64)(-1.25,64)(-1.2,68)(-1.15,63)(-1.1,63)(-1.0,59)(-0.9,62)(-0.8,62)(-0.7,60)
(-0.6,61)(-0.5,60)(-0.4,59)(-0.3,60)(-0.2,62)(-0.15,59)(-0.1,62)(0.0,60)(0.05,60)(0.1,66)(0.15,79)(0.2,76)
(0.3,74)(0.35,74)(0.4,82)(0.5,89)(0.6,94)(0.7,98)(0.8,98)(0.9,97)(1.0,95)(1.1,97)(1.2,96)(1.3,95)(1.4,96)(1.5,95)
(1.5,81)(1.4,84)(1.3,83)(1.2,86)(1.1,87)(1.0,85)(0.9,85)(0.8,88)(0.7,88)(0.6,82)(0.5,75)(0.4,64)(0.35,54)
(0.3,54)(0.2,56)(0.15,59)(0.1,44)(0.05,38)(0.0,38)(-0.1,40)(-0.15,37)(-0.2,40)(-0.3,38)(-0.4,37)(-0.5,38)
(-0.6,39)(-0.7,38)(-0.8,40)(-0.9,40)(-1.0,37)(-1.1,41)(-1.15,41)(-1.2,46)(-1.25,42)(-1.3,42)(-1.35,39)(-1.4,39)(-1.5,36)};
\addplot[bandB] coordinates {
(-1.5,60)(-1.45,56)(-1.4,57)(-1.35,56)(-1.3,60)(-1.25,65)(-1.2,66)(-1.15,67)(-1.1,64)(-1.0,62)(-0.9,60)(-0.8,61)
(-0.7,63)(-0.6,60)(-0.55,58)(-0.5,58)(-0.4,59)(-0.3,61)(-0.2,62)(-0.1,63)(0.0,63)(0.05,64)(0.1,69)(0.15,75)
(0.2,79)(0.3,86)(0.35,92)(0.4,97)(0.45,100)(0.5,100.5)(0.6,100.5)(0.8,100.5)(0.9,101)(1.0,100)(1.1,99.5)
(1.2,99)(1.3,98)(1.4,99)(1.5,100.5)
(1.5,91.5)(1.4,91)(1.3,91)(1.2,93)(1.1,94.5)(1.0,95)(0.9,96)(0.8,95.5)(0.6,95.5)(0.5,94.5)(0.45,92)(0.4,85)
(0.35,74)(0.3,66)(0.2,57)(0.15,53)(0.1,47)(0.05,42)(0.0,41)(-0.1,41)(-0.2,40)(-0.3,39)(-0.4,37)(-0.5,34)
(-0.55,34)(-0.6,38)(-0.7,41)(-0.8,39)(-0.9,38)(-1.0,40)(-1.1,42)(-1.15,45)(-1.2,42)(-1.25,41)(-1.3,36)
(-1.35,32)(-1.4,33)(-1.45,32)(-1.5,32)};
\addplot[cred, line width=2.5pt] table[x=x, y=y]{\Cred};
\addplot[cgreen, line width=2.5pt] table[x=x, y=y]{\Cgreen};
\addplot[cblue, line width=2.5pt] table[x=x, y=y]{\Cblue};
\addplot[bandK] coordinates {
(-1.5,59.5)(-1.4,60.0)(-1.3,59.2)(-1.2,59.8)(-1.1,59.4)(-1.0,60.0)(-0.9,59.3)(-0.8,59.6)(-0.7,59.9)(-0.6,59.2)
(-0.5,59.7)(-0.4,59.5)(-0.3,59.9)(-0.2,59.3)(-0.1,59.8)(0.0,59.4)(0.1,60.0)(0.15,59.5)(0.2,59.2)(0.3,59.8)
(0.4,59.4)(0.5,60.0)(0.6,59.3)(0.7,59.7)(0.8,59.5)(0.85,60.1)(0.9,59.4)(0.95,60.3)(1.0,59.6)(1.05,60.0)
(1.1,59.2)(1.15,60.4)(1.2,59.6)(1.3,59.9)(1.4,59.5)(1.5,59.7)
(1.5,40.8)(1.4,41.3)(1.3,40.7)(1.2,41.1)(1.15,40.4)(1.1,40.9)(1.05,40.2)(1.0,41.0)(0.95,40.5)(0.9,41.2)
(0.85,40.9)(0.8,40.6)(0.7,41.1)(0.6,40.7)(0.5,41.3)(0.4,40.8)(0.3,41.2)(0.2,40.6)(0.15,41.0)(0.1,41.3)
(0.0,40.7)(-0.1,41.2)(-0.2,40.9)(-0.3,41.4)(-0.4,40.6)(-0.5,41.1)(-0.6,40.9)(-0.7,41.3)(-0.8,40.7)(-0.9,41.0)
(-1.0,41.4)(-1.1,40.8)(-1.2,41.2)(-1.3,40.6)(-1.4,41.5)(-1.5,41.0)};
\addplot[black, line width=1.6pt] table[x=x, y=y]{\Cchance};
\addplot[sq=cred] coordinates {(0.325,20.2)(0.375,20.2)(0.425,20.2)(0.475,20.2)(0.525,20.2)(0.575,20.2)(0.625,20.2)(0.675,20.2)(0.725,20.2)(0.775,20.2)(0.825,20.2)(0.875,20.2)(0.925,20.2)(0.975,20.2)(1.025,20.2)(1.075,20.2)(1.125,20.2)(1.175,20.2)(1.225,20.2)(1.275,20.2)(1.325,20.2)(1.375,20.2)(1.425,20.2)(1.475,20.2)};
\addplot[sq=cgreen] coordinates {(0.325,15.1)(0.375,15.1)(0.425,15.1)(0.475,15.1)(0.525,15.1)(0.575,15.1)(0.625,15.1)(0.675,15.1)(0.725,15.1)(0.775,15.1)(0.825,15.1)(0.875,15.1)(0.925,15.1)(0.975,15.1)(1.025,15.1)(1.075,15.1)(1.125,15.1)(1.175,15.1)(1.225,15.1)(1.275,15.1)(1.325,15.1)(1.375,15.1)(1.425,15.1)(1.475,15.1)};
\addplot[sq=cblue] coordinates {(0.175,10.1)(0.225,10.1)(0.275,10.1)(0.325,10.1)(0.375,10.1)(0.425,10.1)(0.475,10.1)(0.525,10.1)(0.575,10.1)(0.625,10.1)(0.675,10.1)(0.725,10.1)(0.775,10.1)(0.825,10.1)(0.875,10.1)(0.925,10.1)(0.975,10.1)(1.025,10.1)(1.075,10.1)(1.125,10.1)(1.175,10.1)(1.225,10.1)(1.275,10.1)(1.325,10.1)(1.375,10.1)(1.425,10.1)(1.475,10.1)};
\end{axis}

% ================= TEXT =================
\node[font=\helv\bfseries\fontsize{12}{14}\selectfont] at (72,755) {A};
\node[font=\helv\bfseries\fontsize{12}{14}\selectfont] at (232,326) {B};
\node[font=\helv\bfseries\fontsize{12}{14}\selectfont] at (879,326) {C};
\node[anchor=west, font=\fontsize{14.8}{16}\selectfont] at (117,576) {M1-PTN};
\node[anchor=west, font=\fontsize{14.8}{16}\selectfont] at (470,576) {M1-UID};
\node[anchor=west, font=\fontsize{14.8}{16}\selectfont] at (823,576) {M1-PTN};
\node[anchor=west, font=\fontsize{14.8}{16}\selectfont] at (1179,576) {F5-UID};
\node[anchor=west, font=\fontsize{12.5}{14}\selectfont, text=cexe, inner sep=0pt] at (442,721) {Exe};
\node[anchor=west, font=\fontsize{12.5}{14}\selectfont, text=cobs, inner sep=0pt] at (442,700) {Obs};
\node[anchor=west, font=\fontsize{12.5}{14}\selectfont, text=cnogo, inner sep=0pt] at (442,677) {NoGo};
\node[font=\fontsize{15.8}{18}\selectfont] at (745,371) {Time relative to Go/NoGo [s]};
\node[font=\fontsize{15.8}{18}\selectfont, rotate=90] at (45,523) {spikes s$^{-1}$};
\node[anchor=west, font=\fontsize{14.5}{16}\selectfont] at (295,326) {Exe-Obs-NoGo};
\node[anchor=west, font=\fontsize{14.5}{16}\selectfont] at (944,326) {Obs-NoGo};
\node[anchor=west, font=\fontsize{14.5}{16}\selectfont, text=cred, inner sep=0pt] at (943,148) {M1-PTN};
\node[anchor=west, font=\fontsize{14.5}{16}\selectfont, text=cgreen, inner sep=0pt] at (943,126) {M1-UID};
\node[anchor=west, font=\fontsize{14.5}{16}\selectfont, text=cblue, inner sep=0pt] at (943,104) {F5};
\node[font=\fontsize{15.8}{18}\selectfont] at (480,21) {Time relative to Go/NoGo [s]};
\node[font=\fontsize{15.8}{18}\selectfont] at (1125,21) {Time relative to Go/NoGo [s]};
\begin{scope}
\clip (61,0) rectangle (200,773);
\node[font=\fontsize{15.8}{16}\selectfont, rotate=90, align=center] at (88,208) {Classification\\Accuracy};
\end{scope}
\end{tikzpicture}
\end{document}
